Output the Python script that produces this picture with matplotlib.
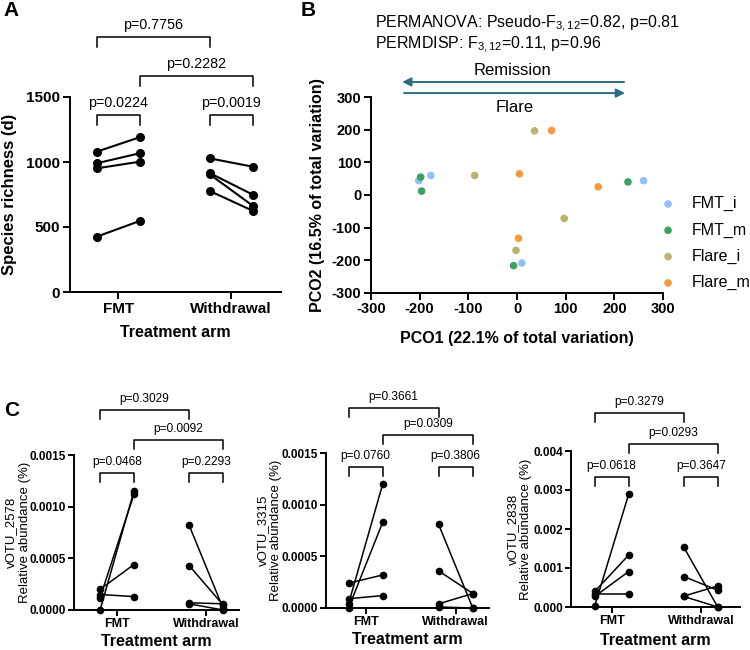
import matplotlib
matplotlib.use("Agg")
import matplotlib.pyplot as plt

plt.rcParams["font.family"] = ["Liberation Sans", "DejaVu Sans"]
plt.rcParams["mathtext.fontset"] = "custom"
plt.rcParams["mathtext.rm"] = "Liberation Sans"
plt.rcParams["mathtext.it"] = "Liberation Sans:italic"
plt.rcParams["mathtext.bf"] = "Liberation Sans:bold"
plt.rcParams["axes.unicode_minus"] = False

ARMS = ["FMT", "Withdrawal"]

# panel A: species richness (d), paired pre/post per arm
RICH_FMT_PRE = [1079, 990, 951, 425]
RICH_FMT_POST = [1190, 1067, 1002, 546]
RICH_WD_PRE = [1028, 915, 905, 777]
RICH_WD_POST = [964, 749, 664, 625]
# within FMT, within withdrawal, pre vs pre, post vs post
RICH_P = ["p=0.0224", "p=0.0019", "p=0.7756", "p=0.2282"]

# panel B: PCO ordination
FMT_I_X = [-202, -177, 10, 260]
FMT_I_Y = [44, 60, -209, 44]
FMT_M_X = [-198, -196, -7, 228]
FMT_M_Y = [55, 12, -217, 40]
FLARE_I_X = [-87, 36, 97, -2]
FLARE_I_Y = [60, 197, -72, -170]
FLARE_M_X = [71, 5, 167, 3]
FLARE_M_Y = [198, 65, 25, -133]
PCO_LABELS = ["FMT_i", "FMT_m", "Flare_i", "Flare_m"]
PCO_COLORS = ["#92C0F7", "#3BA35F", "#B8B36E", "#F59B3D"]

# panel C: relative abundance (%) of three vOTUs
VOTU_NAMES = ["vOTU_2578", "vOTU_3315", "vOTU_2838"]
V2578_FMT_PRE = [0.0, 0.00012, 0.00020, 0.00015]
V2578_FMT_POST = [0.00115, 0.00112, 0.00044, 0.00013]
V2578_WD_PRE = [0.00082, 0.00043, 0.00007, 0.00006]
V2578_WD_POST = [0.00002, 0.00005, 0.00006, 0.0]
V2578_P = ["p=0.0468", "p=0.2293", "p=0.3029", "p=0.0092"]

V3315_FMT_PRE = [0.00004, 0.0, 0.00024, 0.00009]
V3315_FMT_POST = [0.00120, 0.00083, 0.00032, 0.00012]
V3315_WD_PRE = [0.00081, 0.00036, 0.00004, 0.00001]
V3315_WD_POST = [0.0, 0.00014, 0.00014, 0.0]
V3315_P = ["p=0.0760", "p=0.3806", "p=0.3661", "p=0.0309"]

V2838_FMT_PRE = [0.00003, 0.00040, 0.00027, 0.00034]
V2838_FMT_POST = [0.00289, 0.00133, 0.00091, 0.00034]
V2838_WD_PRE = [0.00153, 0.00078, 0.00028, 0.00027]
V2838_WD_POST = [0.0, 0.00043, 0.00054, 0.0]
V2838_P = ["p=0.0618", "p=0.3647", "p=0.3279", "p=0.0293"]

OFF = 0.19


def style_axes(ax, labelsize, length=5, pad=2):
    for side in ("top", "right"):
        ax.spines[side].set_visible(False)
    for side in ("left", "bottom"):
        ax.spines[side].set_linewidth(1.4)
    ax.tick_params(width=1.4, length=length, labelsize=labelsize, pad=pad)


def bold_ticks(ax):
    for lab in ax.get_xticklabels() + ax.get_yticklabels():
        lab.set_fontweight("bold")


def bracket(ax, x1, x2, y, h, text, fs):
    ax.plot([x1, x1, x2, x2], [y - h, y, y, y - h], color="black", lw=1.1, clip_on=False)
    ax.annotate(text, xy=((x1 + x2) / 2, y), xytext=(0, 3.5), textcoords="offset points",
                ha="center", va="bottom", fontsize=fs, annotation_clip=False)


def paired(ax, fmt_pre, fmt_post, wd_pre, wd_post, pvals, ymax, levels, tick_h,
           ms, lw, pfs):
    for i, (pre, post) in enumerate([(fmt_pre, fmt_post), (wd_pre, wd_post)]):
        for a, b in zip(pre, post):
            ax.plot([i - OFF, i + OFF], [a, b], color="black", lw=lw, marker="o",
                    ms=ms, clip_on=False, zorder=3)
    h = tick_h * ymax
    bracket(ax, -OFF, OFF, levels[0] * ymax, h, pvals[0], pfs)
    bracket(ax, 1 - OFF, 1 + OFF, levels[0] * ymax, h, pvals[1], pfs)
    bracket(ax, -OFF, 1 - OFF, levels[2] * ymax, h, pvals[2], pfs)
    bracket(ax, OFF, 1 + OFF, levels[1] * ymax, h, pvals[3], pfs)
    ax.set_xticks([0, 1])
    ax.set_xticklabels(ARMS)
    ax.set_ylim(0, ymax)


fig = plt.figure(figsize=(7.5, 6.5), dpi=100)

# ---- A ----
axA = fig.add_axes([70 / 750, 1 - 292 / 650, 211 / 750, 195 / 650])
style_axes(axA, 11)
paired(axA, RICH_FMT_PRE, RICH_FMT_POST, RICH_WD_PRE, RICH_WD_POST, RICH_P,
       1500, [0.908, 1.108, 1.308], 0.051, 5.5, 1.5, 10.3)
axA.set_xlim(-0.425, 1.44)
axA.set_yticks([0, 500, 1000, 1500])
axA.set_ylabel("Species richness (d)", fontsize=12, fontweight="bold")
axA.yaxis.set_label_coords(-0.251, 0.5)
axA.set_xlabel("Treatment arm", fontsize=11.5, fontweight="bold")
axA.xaxis.set_label_coords(0.5, -0.17)
bold_ticks(axA)

# ---- B ----
axB = fig.add_axes([371 / 750, 1 - 292.7 / 650, 292 / 750, 195.4 / 650])
style_axes(axB, 10.5)
for xs, ys, lab, col in zip([FMT_I_X, FMT_M_X, FLARE_I_X, FLARE_M_X],
                            [FMT_I_Y, FMT_M_Y, FLARE_I_Y, FLARE_M_Y],
                            PCO_LABELS, PCO_COLORS):
    axB.scatter(xs, ys, s=30, color=col, edgecolors="none", label=lab, zorder=3)
axB.set_xlim(-300, 300)
axB.set_ylim(-300, 300)
axB.set_xticks(range(-300, 301, 100))
axB.set_yticks(range(-300, 301, 100))
axB.set_xlabel("PCO1 (22.1% of total variation)", fontsize=11.5, fontweight="bold")
axB.xaxis.set_label_coords(0.5, -0.195)
axB.set_ylabel("PCO2 (16.5% of total variation)", fontsize=11.5, fontweight="bold")
axB.yaxis.set_label_coords(-0.158, 0.5)
bold_ticks(axB)
axB.legend(loc="upper left", bbox_to_anchor=(0.99, 0.494), frameon=False, fontsize=11.5,
           handlelength=1.0, handletextpad=1.0, labelspacing=0.7, borderpad=0,
           borderaxespad=0, scatterpoints=1)
arrow_col = "#2C6B86"
axB.annotate("", xy=(-236, 347), xytext=(220, 347), annotation_clip=False,
             arrowprops=dict(arrowstyle="-|>", color=arrow_col, lw=1.4, mutation_scale=13,
                             shrinkA=0, shrinkB=0))
axB.annotate("", xy=(222, 313), xytext=(-232, 313), annotation_clip=False,
             arrowprops=dict(arrowstyle="-|>", color=arrow_col, lw=1.4, mutation_scale=13,
                             shrinkA=0, shrinkB=0))
axB.text(-10, 381, "Remission", ha="center", va="center", fontsize=12, clip_on=False)
axB.text(-4, 270, "Flare", ha="center", va="center", fontsize=12, clip_on=False)
axB.text(0.014, 1.375, r"PERMANOVA: Pseudo-F$_{3,12}$=0.82, p=0.81", transform=axB.transAxes,
         ha="left", va="center", fontsize=11.5)
axB.text(0.014, 1.27, r"PERMDISP: F$_{3,12}$=0.11, p=0.96", transform=axB.transAxes,
         ha="left", va="center", fontsize=11.5)

# ---- C ----
c_boxes = [[74, 239, 455, 610], [326, 489, 453, 608], [571, 740, 451, 607]]
c_data = [
    (V2578_FMT_PRE, V2578_FMT_POST, V2578_WD_PRE, V2578_WD_POST, V2578_P),
    (V3315_FMT_PRE, V3315_FMT_POST, V3315_WD_PRE, V3315_WD_POST, V3315_P),
    (V2838_FMT_PRE, V2838_FMT_POST, V2838_WD_PRE, V2838_WD_POST, V2838_P),
]
c_ymax = [0.0015, 0.0015, 0.004]
c_ticks = [[0, 0.0005, 0.001, 0.0015], [0, 0.0005, 0.001, 0.0015],
           [0, 0.001, 0.002, 0.003, 0.004]]
c_fmt = ["{:.4f}", "{:.4f}", "{:.3f}"]
c_levels = [[0.886, 1.097, 1.29], [0.91, 1.119, 1.293], [0.833, 1.043, 1.244]]
c_xlim = [(-0.483, 1.37), (-0.44, 1.37), (-0.457, 1.44)]
c_ylab_x = [-0.262, -0.27, -0.23]
c_xlab_y = [-0.155, -0.155, -0.165]
for box, data, ymax, ticks, fmt, lev, xl, name, yx, xy in zip(
        c_boxes, c_data, c_ymax, c_ticks, c_fmt, c_levels, c_xlim, VOTU_NAMES,
        c_ylab_x, c_xlab_y):
    l, r, t, b = box
    ax = fig.add_axes([l / 750, 1 - b / 650, (r - l) / 750, (b - t) / 650])
    style_axes(ax, 8.5, length=4, pad=1.5)
    ax.tick_params(axis="x", labelsize=9)
    paired(ax, *data, ymax, lev, 0.058, 4.5, 1.1, 8.6)
    ax.set_xlim(*xl)
    ax.set_yticks(ticks)
    ax.set_yticklabels([fmt.format(v) for v in ticks])
    ax.set_ylabel(name + "\nRelative abundance (%)", fontsize=9.5, linespacing=1.15)
    ax.yaxis.set_label_coords(yx, 0.5)
    ax.set_xlabel("Treatment arm", fontsize=11.5, fontweight="bold")
    ax.xaxis.set_label_coords(0.5, xy)
    bold_ticks(ax)

fig.text(11 / 750, 1 - 11 / 650, "A", fontsize=15, fontweight="bold", ha="center", va="center")
fig.text(308 / 750, 1 - 10 / 650, "B", fontsize=15, fontweight="bold", ha="center", va="center")
fig.text(12 / 750, 1 - 410 / 650, "C", fontsize=15, fontweight="bold", ha="center", va="center")

fig.savefig("out.png", dpi=100)
